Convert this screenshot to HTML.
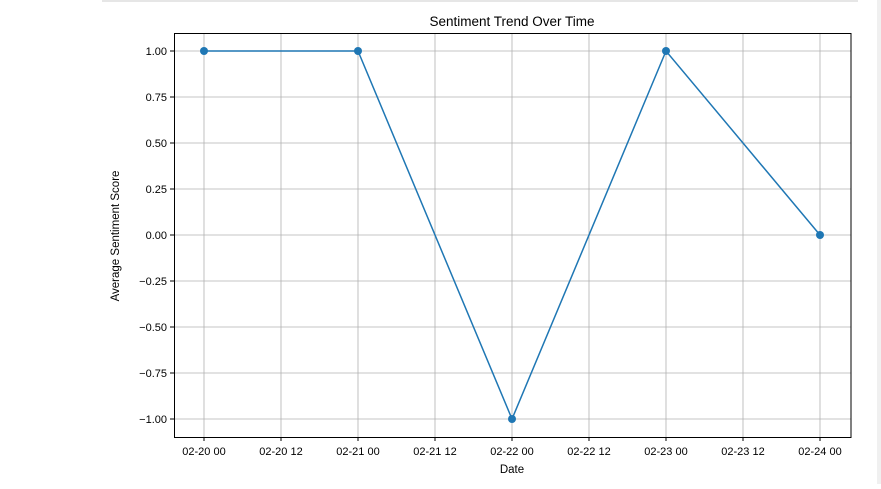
<!DOCTYPE html>
<html><head><meta charset="utf-8"><style>
body{margin:0;background:#fff;width:881px;height:484px;overflow:hidden;font-family:"Liberation Sans","DejaVu Sans",sans-serif}
</style></head><body>
<svg width="881" height="484" xmlns="http://www.w3.org/2000/svg">
<rect x="102" y="0" width="756" height="2" fill="#e6e6e6"/>
<rect x="877" y="0" width="4" height="484" fill="#f0f0f0"/>
<g id="grid"></g>
<polyline id="line" fill="none" stroke="#1f77b4" stroke-width="1.5"/>
<g id="pts"></g>
<rect x="174.5" y="33.5" width="676.5" height="404" fill="none" stroke="#000" stroke-width="1"/>
<g id="ticks" font-size="11" fill="#000"></g>
<text x="512" y="26" text-anchor="middle" font-size="13.5">Sentiment Trend Over Time</text>
<text x="512" y="473" text-anchor="middle" font-size="11.5">Date</text>
<text transform="translate(119,236) rotate(-90)" text-anchor="middle" font-size="11.5">Average Sentiment Score</text>
</svg>
<script>
const dayOffsets=[0,1,2,3,4];
const scores=[1,1,-1,1,0];
const xTickLabels=["02-20 00","02-20 12","02-21 00","02-21 12","02-22 00","02-22 12","02-23 00","02-23 12","02-24 00"];
const yTicks=[1,0.75,0.5,0.25,0,-0.25,-0.5,-0.75,-1];
const yTickLabels=["1.00","0.75","0.50","0.25","0.00","\u22120.25","\u22120.50","\u22120.75","\u22121.00"];
const X=d=>204+d*154, Y=v=>235-v*184;
const ns="http://www.w3.org/2000/svg";
function mk(t,a,p){const e=document.createElementNS(ns,t);for(const k in a)e.setAttribute(k,a[k]);p.appendChild(e);return e;}
const g=document.getElementById('grid'),tk=document.getElementById('ticks'),pts=document.getElementById('pts');
xTickLabels.forEach((l,i)=>{const x=X(i*0.5);
 const gl=mk('line',{x1:x,x2:x,y1:34,y2:437,stroke:'#b0b0b0','stroke-width':0.8},g);
 
 
 mk('line',{x1:x,x2:x,y1:437,y2:441,stroke:'#000'},tk);
 const t=mk('text',{x:x,y:455,'text-anchor':'middle'},tk);t.textContent=l;
 
 
});
yTicks.forEach((v,i)=>{const y=Y(v);
 const gl=mk('line',{x1:175,x2:851,y1:y,y2:y,stroke:'#b0b0b0','stroke-width':0.8},g);
 
 
 mk('line',{x1:170,x2:174,y1:y,y2:y,stroke:'#000'},tk);
 const t=mk('text',{x:167,y:y+4,'text-anchor':'end'},tk);t.textContent=yTickLabels[i];
 
 
});
document.getElementById('line').setAttribute('points',dayOffsets.map((d,i)=>X(d)+','+Y(scores[i])).join(' '));
dayOffsets.forEach((d,i)=>{const c=mk('circle',{cx:X(d),cy:Y(scores[i]),r:4,fill:'#1f77b4'},pts);
 
 
});
</script>
</body></html>
